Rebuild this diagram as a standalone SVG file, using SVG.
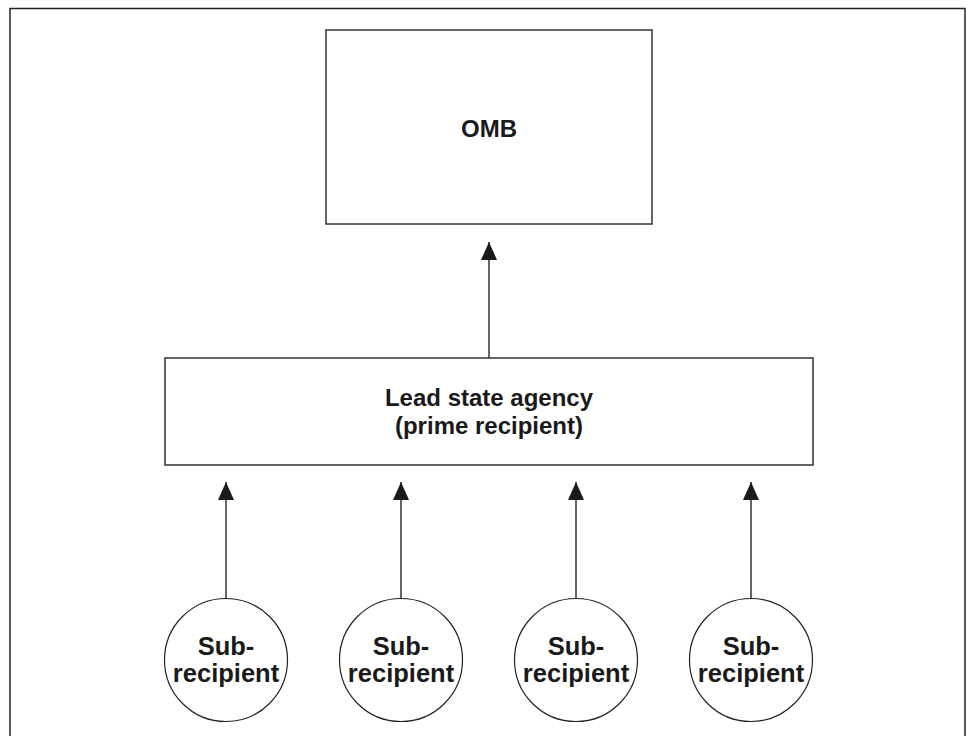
<svg xmlns="http://www.w3.org/2000/svg" width="972" height="736" viewBox="0 0 972 736">
<style>
.box{fill:#fff;stroke:#333;stroke-width:1.5}
.circ{fill:#fff;stroke:#222;stroke-width:1.2}
.lbl{font-family:"Liberation Sans",Arial,sans-serif;font-weight:bold;font-size:24px;fill:#1a1a1a;text-anchor:middle}
.sub{font-size:25.5px}
.conn{stroke:#333;stroke-width:1.5;fill:none;marker-end:url(#ah)}
</style>
<defs>
<marker id="ah" viewBox="0 0 18 16" refX="18" refY="8" markerWidth="18" markerHeight="16" markerUnits="userSpaceOnUse" orient="auto">
<path d="M0,0 L18,8 L0,16 Z" fill="#1a1a1a"/>
</marker>
</defs>
<rect x="0" y="0" width="972" height="736" fill="#fff"/>
<rect id="frame" x="10" y="8.5" width="955" height="740" fill="none" stroke="#222" stroke-width="1.5"/>
<g id="connectors">
<line class="conn" x1="489" y1="358" x2="489" y2="242"/>
<line class="conn" x1="226" y1="598" x2="226" y2="482"/>
<line class="conn" x1="401" y1="598" x2="401" y2="482"/>
<line class="conn" x1="576" y1="598" x2="576" y2="482"/>
<line class="conn" x1="751" y1="598" x2="751" y2="482"/>
</g>
<g id="omb">
<rect class="box" x="326" y="30" width="326" height="194"/>
<text class="lbl" x="489" y="137">OMB</text>
</g>
<g id="lead">
<rect class="box" x="165" y="358" width="648" height="107"/>
<text class="lbl" x="489" y="406">Lead state agency</text>
<text class="lbl" x="489" y="434">(prime recipient)</text>
</g>
<g id="sub1">
<circle class="circ" cx="226" cy="660" r="61.5"/>
<text class="lbl sub" x="226" y="655">Sub-</text>
<text class="lbl sub" x="226" y="682">recipient</text>
</g>
<g id="sub2">
<circle class="circ" cx="401" cy="660" r="61.5"/>
<text class="lbl sub" x="401" y="655">Sub-</text>
<text class="lbl sub" x="401" y="682">recipient</text>
</g>
<g id="sub3">
<circle class="circ" cx="576" cy="660" r="61.5"/>
<text class="lbl sub" x="576" y="655">Sub-</text>
<text class="lbl sub" x="576" y="682">recipient</text>
</g>
<g id="sub4">
<circle class="circ" cx="751" cy="660" r="61.5"/>
<text class="lbl sub" x="751" y="655">Sub-</text>
<text class="lbl sub" x="751" y="682">recipient</text>
</g>
</svg>
